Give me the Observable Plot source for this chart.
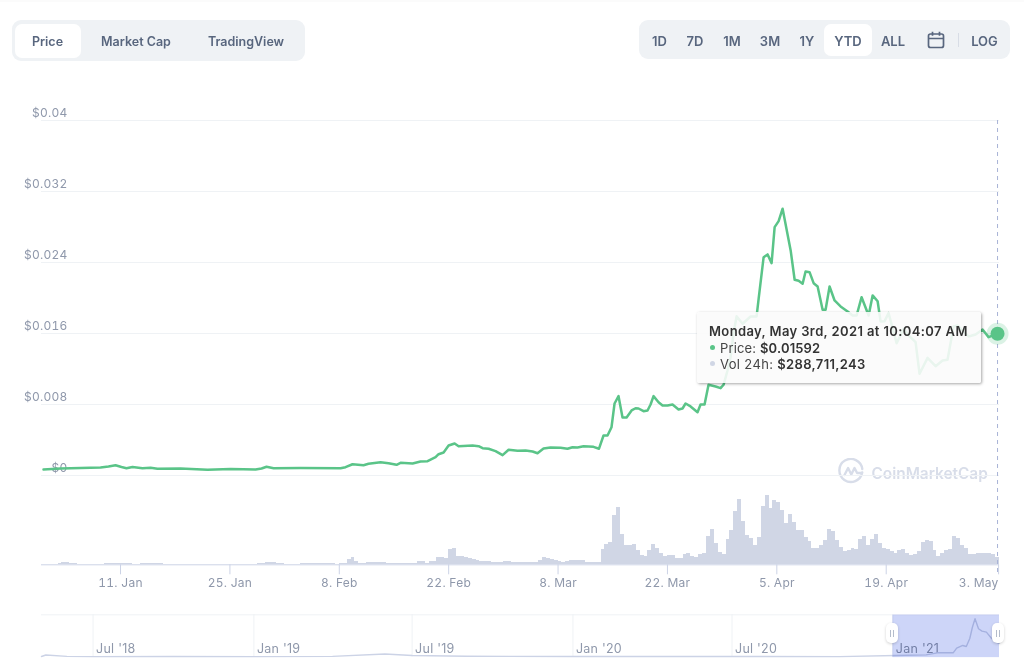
<!DOCTYPE html>
<html>
<head>
<meta charset="utf-8">
<script src="https://cdn.jsdelivr.net/npm/d3@7"></script>
<script src="https://cdn.jsdelivr.net/npm/@observablehq/plot@0.6"></script>
<style>
html,body{margin:0;padding:0;background:#fff;width:1024px;height:670px;overflow:hidden;font-family:Inter,"Liberation Sans",sans-serif}
#root{position:relative;width:1024px;height:670px;overflow:hidden}
#root>svg{position:absolute;left:0;top:0}
#root>svg text{letter-spacing:.25px}
.box{position:absolute;background:#eff2f5;border-radius:9px}
.sel{position:absolute;background:#fff;border-radius:7px}
.lab{position:absolute;color:#58667e;font-weight:600;font-size:13px;transform:translate(-50%,-50%);white-space:nowrap}
.tab{font-size:12.5px}
#topline{position:absolute;left:0;top:0;width:1024px;height:2px;background:#fbfbfb}
#tip{position:absolute;left:697px;top:312px;width:284px;height:71px;background:rgba(250,250,250,.89);border-radius:2px;box-shadow:1px 1px 3px rgba(0,0,0,.35);color:#333}
#tip div{position:absolute;white-space:nowrap;font-size:13px;line-height:16px}
#tip b{font-weight:600}
#tip i{position:absolute;width:5px;height:5px;border-radius:50%}
.wm{position:absolute;left:871.5px;top:461.5px;color:#d8dde9;font-weight:600;font-size:15.4px;line-height:23px;white-space:nowrap}
.handle{position:absolute;width:12px;height:20px;background:#fff;border-radius:5px;box-shadow:0 1px 3px rgba(0,0,0,.18)}
.handle:before{content:"";position:absolute;left:4px;top:6.5px;width:1px;height:7px;background:#b4bccb;box-shadow:3px 0 0 #b4bccb}
</style>
</head>
<body>
<div id="root"><div id="topline"></div></div>
<script>
// ---- data ----
const tabs = ["Price", "Market Cap", "TradingView"];
const ranges = ["1D", "7D", "1M", "3M", "1Y", "YTD", "ALL"];
const yTicks = [0, 0.008, 0.016, 0.024, 0.032, 0.04];
const yLabels = ["$0", "$0.008", "$0.016", "$0.024", "$0.032", "$0.04"];
const xTicks = ["2021-01-11", "2021-01-25", "2021-02-08", "2021-02-22", "2021-03-08", "2021-03-22", "2021-04-05", "2021-04-19"];
const xTickLast = ["2021-05-03"];

// days since 1 Jan 2021
const priceDay = [0.14,2.32,4.88,7.44,8.46,9.36,10.12,10.76,11.53,12.81,13.84,14.73,17.68,21.13,24.08,27.28,28.05,28.69,29.59,33.04,38.16,38.8,39.69,41.1,41.74,43.28,44.3,45.33,45.84,47.38,48.4,49.3,50.32,50.71,51.35,51.99,52.76,53.27,55.06,55.83,56.34,57.11,58,58.9,59.67,60.82,61.84,62.74,63.37,64.14,65.04,66.32,67.21,67.85,68.49,69.26,70.54,71.24,71.82,72.33,72.84,73.23,73.74,74.25,74.77,75.41,75.92,76.3,76.94,77.45,77.84,78.22,78.86,79.37,80.01,80.65,81.42,81.93,82.32,82.96,83.85,84.24,84.75,85.26,86.16,86.8,87.18,87.69,88.08,88.46,88.85,89.62,90.64,91.41,91.67,92.31,92.82,93.33,93.72,94.23,94.74,95.77,96.28,96.79,97.3,97.68,98.19,98.71,99.22,99.86,100.24,100.75,101.39,102.16,103.06,103.7,104.21,104.85,105.75,106.26,106.9,107.28,107.79,108.3,109.33,110.22,110.86,111.76,112.27,113.29,114.32,115.21,115.85,116.62,117.13,118.54,119.44,120.33,121.1,122.25];
const priceUsd = [.00068,.00079,.00085,.0009,.00101,.00116,.00096,.00082,.00096,.00082,.00088,.00076,.00079,.00064,.00073,.00068,.00079,.00098,.00082,.00085,.00082,.00094,.00127,.00116,.00132,.0015,.00139,.00121,.00143,.00135,.00158,.00161,.00206,.0024,.00259,.00338,.00361,.0033,.00338,.0033,.00308,.00301,.00274,.00229,.0029,.00278,.00282,.0027,.00251,.00304,.00316,.00312,.00301,.00319,.00316,.0033,.00323,.00302,.00451,.00451,.00544,.00811,.00894,.00654,.00654,.00733,.00758,.00755,.00725,.00733,.008,.00894,.00826,.00789,.00789,.008,.00744,.00755,.00811,.00778,.00713,.008,.008,.01022,.01003,.00984,.01022,.01183,.01333,.016,.01795,.0171,.01792,.01792,.01991,.0246,.02491,.02393,.02798,.02866,.03006,.02536,.02206,.02194,.0216,.02299,.02291,.02167,.0213,.01867,.01867,.0213,.01972,.01905,.01848,.01803,.01803,.02009,.01803,.02029,.01964,.01736,.01739,.01829,.01491,.01653,.01578,.01502,.01146,.01326,.01232,.01296,.01304,.01679,.0169,.01567,.01589,.01645,.01559,.01597];

// 24h volume in $ million, one value every 12 hours
const volumeM = [
11,11,11,11,45,75,94,56,45,11,11,11,11,11,11,11,38,38,38,38,38,38,38,11,11,45,45,45,45,45,45,
11,11,11,11,11,11,11,11,11,11,11,11,11,11,11,11,11,11,11,11,11,11,11,11,
38,45,75,94,94,56,45,15,15,15,15,38,38,38,38,38,38,38,38,38,15,
38,38,188,263,113,38,38,94,94,94,94,94,38,38,38,38,38,38,38,38,113,113,38,113,113,263,263,225,581,619,300,300,
281,225,188,169,131,131,113,94,94,94,131,131,94,94,94,94,94,94,94,169,263,225,188,150,113,94,131,150,150,150,150,94,94,94,94,
589,750,836,1838,2149,1151,713,713,750,525,338,300,551,776,611,424,311,338,338,251,251,401,424,300,274,401,424,1061,1339,799,461,375,938,1301,1999,2464,1624,1114,986,713,1024,2186,2588,2126,2400,2336,2025,1564,1875,1586,1301,
1301,1024,863,626,626,713,926,1339,1249,900,649,488,551,600,563,964,1050,713,964,1151,814,611,563,488,424,551,574,424,338,375,488,836,900,874,551,311,439,525,574,1050,986,713,626,401,401,424,424,424,424,401,289];

// range navigator (whole history)
const navDates = ["2018-05-03","2018-05-08","2018-06-01","2018-07-01","2018-10-01","2019-01-01","2019-04-01","2019-05-31","2019-07-01","2019-09-01","2020-01-01","2020-07-01","2020-11-01","2021-01-04","2021-02-08","2021-02-21","2021-03-11","2021-03-15","2021-03-22","2021-03-26","2021-03-30","2021-04-02","2021-04-05","2021-04-09","2021-04-13","2021-04-18","2021-04-24","2021-04-29","2021-05-03"];
const navUsd = [.0004,.0016,.0005,.0003,.0004,.0003,.0005,.0024,.0012,.0006,.0004,.0004,.0003,.0012,.0017,.0033,.0033,.007,.0091,.0083,.0146,.0235,.0302,.0223,.0204,.0196,.0146,.0117,.0107];
const navTicks = ["2018-07-01","2019-01-01","2019-07-01","2020-01-01","2020-07-01","2021-01-01"];

// ---- helpers ----
const start = new Date(Date.UTC(2021,0,1));
const dayToDate = d => new Date(+start + d*864e5);
const iso = s => new Date(s + "T00:00:00Z");
const X = {type:"utc", domain:[start, dayToDate(122.5)], range:[41.9, 999]};
const common = {width:1024, height:670, marginLeft:41, marginRight:25, marginTop:0, marginBottom:0,
  style:{background:"transparent", fontFamily:"Inter, sans-serif", fontSize:"12px", position:"absolute", left:0, top:0, overflow:"visible"}};
const axisGrey = "#8f98ab";
const green = "#5ac488";
const root = document.getElementById("root");

function el(cls, css, html){ const e=document.createElement("div"); e.className=cls; Object.assign(e.style,css); if(html!=null) e.innerHTML=html; root.appendChild(e); return e; }

// ---- control bars ----
el("box",{left:"12px",top:"20px",width:"293px",height:"41px"});
el("sel",{left:"15px",top:"23.5px",width:"66px",height:"34.5px"});
[47.5,136,246].forEach((cx,i)=>el("lab tab",{left:cx+"px",top:"41px"},tabs[i]));
el("box",{left:"639px",top:"20px",width:"371px",height:"39px"});
el("sel",{left:"824px",top:"24px",width:"47.5px",height:"32px"});
[659.5,695,732,770,807,848,893].forEach((cx,i)=>el("lab",{left:cx+"px",top:"40.5px"},ranges[i]));
el("lab",{left:"984.5px",top:"40.5px"},"LOG");
el("",{position:"absolute",left:"958px",top:"33px",width:"1px",height:"14px",background:"#d8dde6"});
el("",{position:"absolute",left:"927px",top:"31px",width:"18px",height:"18px"},
 '<svg width="18" height="18" viewBox="0 0 18 18" fill="none" stroke="#58667e" stroke-width="1.7"><rect x="1.5" y="3" width="15" height="13.5" rx="2"/><path d="M1.5 7.5h15M5.5 .8v4M12.5 .8v4"/></svg>');

// ---- watermark ----
el("",{position:"absolute",left:"838px",top:"458px",width:"26px",height:"26px"},
 '<svg width="26" height="26" viewBox="0 0 26 26" fill="none" stroke="#d8dde9" stroke-width="2.4" stroke-linecap="round" stroke-linejoin="round"><path d="M24.2 14.5A11.5 11.5 0 1 1 24.3 11"/><path d="M6.5 17l3.6-7 3.2 6.5 3.2-6.5 2.6 5 4.9 0"/></svg>');
el("wm",{},"CoinMarketCap");

// ---- volume panel ----
const volumeDate = (i) => dayToDate(i/2);
root.appendChild(Plot.plot({...common,
  x:{...X, axis:null},
  y:{domain:[0,3000], range:[564.3,484.3], axis:null},
  marks:[
    Plot.rectY(volumeM,{x1:(d,i)=>volumeDate(i), x2:(d,i)=>volumeDate(i+1), y:d=>d, fill:"#d0d6e5", shapeRendering:"crispEdges"}),
    Plot.ruleY([0],{stroke:"#ccd3e6"}),
    Plot.axisX(xTicks.map(iso),{anchor:"bottom", y:0, tickSize:10, tickPadding:4, stroke:"#ccd3e6", fill:axisGrey, color:axisGrey, tickFormat:d3.utcFormat("%-d. %b"), label:null, fontSize:12}),
    Plot.axisX(xTickLast.map(iso),{anchor:"bottom", y:0, tickSize:10, tickPadding:4, stroke:"#ccd3e6", fill:axisGrey, textAnchor:"end", dx:3, tickFormat:d3.utcFormat("%-d. %b"), label:null, fontSize:12})
  ]}));

// ---- price panel ----
const priceData = priceDay.map((d,i)=>({date:dayToDate(d), usd:priceUsd[i]}));
const last = priceData[priceData.length-1];
root.appendChild(Plot.plot({...common,
  x:{...X, axis:null},
  y:{domain:[0,0.04], range:[475,120], axis:null},
  marks:[
    Plot.ruleY(yTicks,{stroke:"#eff2f5"}),
    Plot.axisY(yTicks,{anchor:"left", tickSize:0, tickPadding:0, dx:26, dy:-7.5, label:null, fill:axisGrey, tickFormat:(d)=>yLabels[yTicks.indexOf(d)], fontSize:12}),
    Plot.lineY(priceData,{x:"date", y:"usd", stroke:green, strokeWidth:2.5, strokeLinejoin:"round"})
  ]}));

// ---- tooltip ----
const tip = el("",{},`
 <div style="left:12px;top:11px;font-weight:600;letter-spacing:.38px">Monday, May 3rd, 2021 at 10:04:07 AM</div>
 <i style="left:12.5px;top:33px;background:${green}"></i>
 <div style="left:23px;top:28px;letter-spacing:.15px"><span style="color:#444">Price:</span> <b>$0.01592</b></div>
 <i style="left:12.5px;top:49px;background:#d0d6e5"></i>
 <div style="left:23px;top:44px;letter-spacing:.35px"><span style="color:#444">Vol 24h:</span> <b>$288,711,243</b></div>`);
tip.id="tip";

// ---- cursor overlay ----
root.appendChild(Plot.plot({...common,
  x:{...X, axis:null},
  y:{domain:[0,0.04], range:[475,120], axis:null},
  marks:[
    Plot.ruleX([last.date],{y1:0.04, y2:-0.0111, stroke:"#a9b3d6", strokeDasharray:"4 4"}),
    Plot.dot([last],{x:"date", y:"usd", r:11, fill:green, fillOpacity:.22}),
    Plot.dot([last],{x:"date", y:"usd", r:7, fill:green})
  ]}));

// ---- navigator ----
const navData = navDates.map((d,i)=>({date:iso(d), usd:navUsd[i]}));
root.appendChild(Plot.plot({...common,
  x:{type:"utc", domain:[iso("2018-05-03"), iso("2021-05-03")], range:[41,999], axis:null},
  y:{domain:[0,0.03], range:[656.5,618.5], axis:null},
  marks:[
    Plot.ruleY([0.03],{dy:-4.2, stroke:"#eff2f5"}),
    Plot.ruleX(navTicks.map(iso),{y1:0.0335, y2:0, stroke:"#eff2f5"}),
    Plot.text(navTicks.map(iso),{x:d=>d, y:0, dx:3, dy:-8.5, text:d3.utcFormat("%b '%y"), textAnchor:"start", fill:axisGrey, fontSize:12.5}),
    Plot.lineY(navData,{x:"date", y:"usd", stroke:"#ccd3e6", strokeWidth:1.4}),
    Plot.rect([0],{x1:iso("2021-01-01"), x2:iso("2021-05-03"), y1:-0.0005, y2:0.0331, fill:"#cdd5f8", mixBlendMode:"multiply"})
  ]}));
el("handle",{left:"886px",top:"623px"});
el("handle",{left:"992px",top:"623px"});
</script>
</body>
</html>
